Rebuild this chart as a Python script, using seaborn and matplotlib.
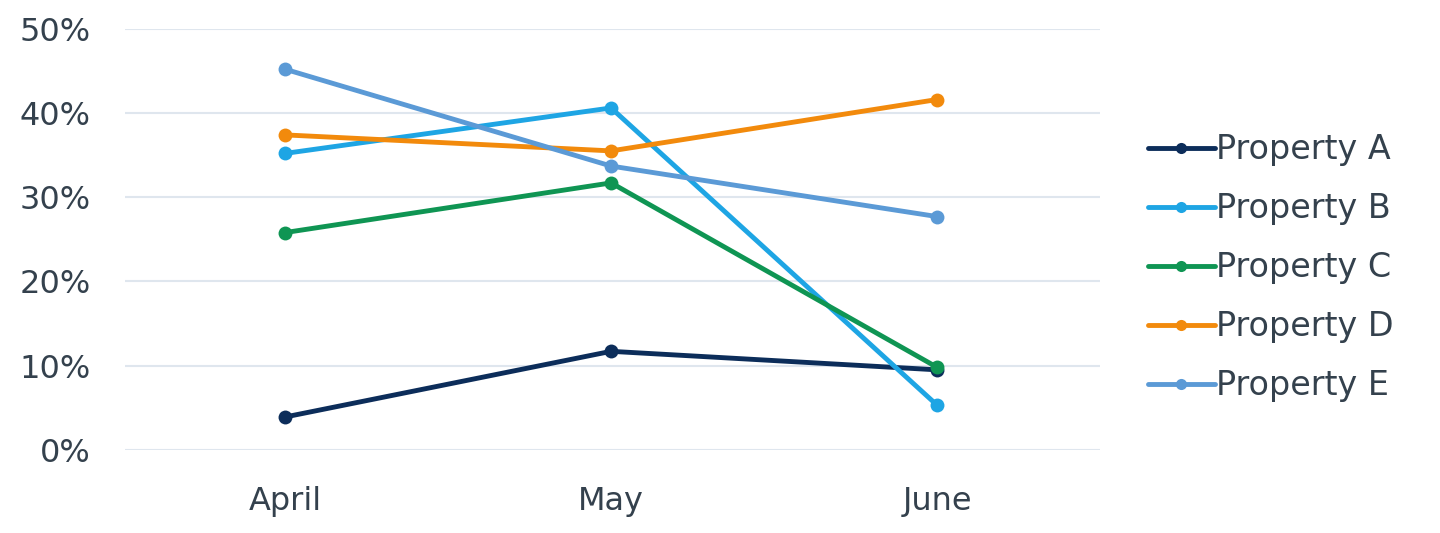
import matplotlib
matplotlib.use("Agg")
import matplotlib.pyplot as plt
import seaborn as sns
import pandas as pd
from matplotlib.ticker import FuncFormatter

months = ["April", "May", "June"]
properties = ["Property A", "Property B", "Property C", "Property D", "Property E"]
prop_a = [3.9, 11.7, 9.5]
prop_b = [35.2, 40.6, 5.3]
prop_c = [25.8, 31.7, 9.8]
prop_d = [37.4, 35.5, 41.6]
prop_e = [45.2, 33.7, 27.7]
colors = ["#0c2d5a", "#1ea5e4", "#0f9553", "#f28a0c", "#5b9ad6"]

series = [prop_a, prop_b, prop_c, prop_d, prop_e]
df = pd.DataFrame(
    [(m, p, v) for p, vals in zip(properties, series) for m, v in zip(months, vals)],
    columns=["month", "property", "share"],
)
df["pos"] = df["month"].map({m: i for i, m in enumerate(months)})

sns.set_theme(style="white")
plt.rcParams["font.family"] = ["DejaVu Sans"]
text_color = "#34414d"

fig = plt.figure(figsize=(14.4, 5.33), dpi=100)
ax = fig.add_axes([0.087, 0.156, 0.677, 0.79])

sns.lineplot(
    data=df, x="pos", y="share", hue="property", hue_order=properties,
    palette=colors, marker="o", markersize=10, markeredgewidth=0,
    linewidth=3.5, ax=ax, legend=True,
)

ax.set_xlim(-0.49, 2.5)
ax.set_ylim(0, 50)
ax.set_xticks(range(len(months)))
ax.set_xticklabels(months)
ax.set_yticks([0, 10, 20, 30, 40, 50])
ax.yaxis.set_major_formatter(FuncFormatter(lambda v, _: f"{v:.0f}%"))
ax.grid(axis="y", color="#dfe6ee", linewidth=1.5)
ax.set_axisbelow(True)
for s in ax.spines.values():
    s.set_visible(False)
ax.set_xlabel("")
ax.set_ylabel("")
ax.tick_params(axis="y", length=0, pad=25, labelsize=23, labelcolor=text_color)
ax.tick_params(axis="x", length=0, pad=26, labelsize=23, labelcolor=text_color)

handles, labels = ax.get_legend_handles_labels()
ax.legend(
    handles, labels, loc="center left", bbox_to_anchor=(1.049, 0.432),
    frameon=False, fontsize=24, labelcolor=text_color,
    borderaxespad=0, borderpad=0,
    handlelength=2.0, handletextpad=0.05, labelspacing=0.78, markerscale=0.8,
)

fig.savefig("out.png", dpi=100, facecolor="white")
